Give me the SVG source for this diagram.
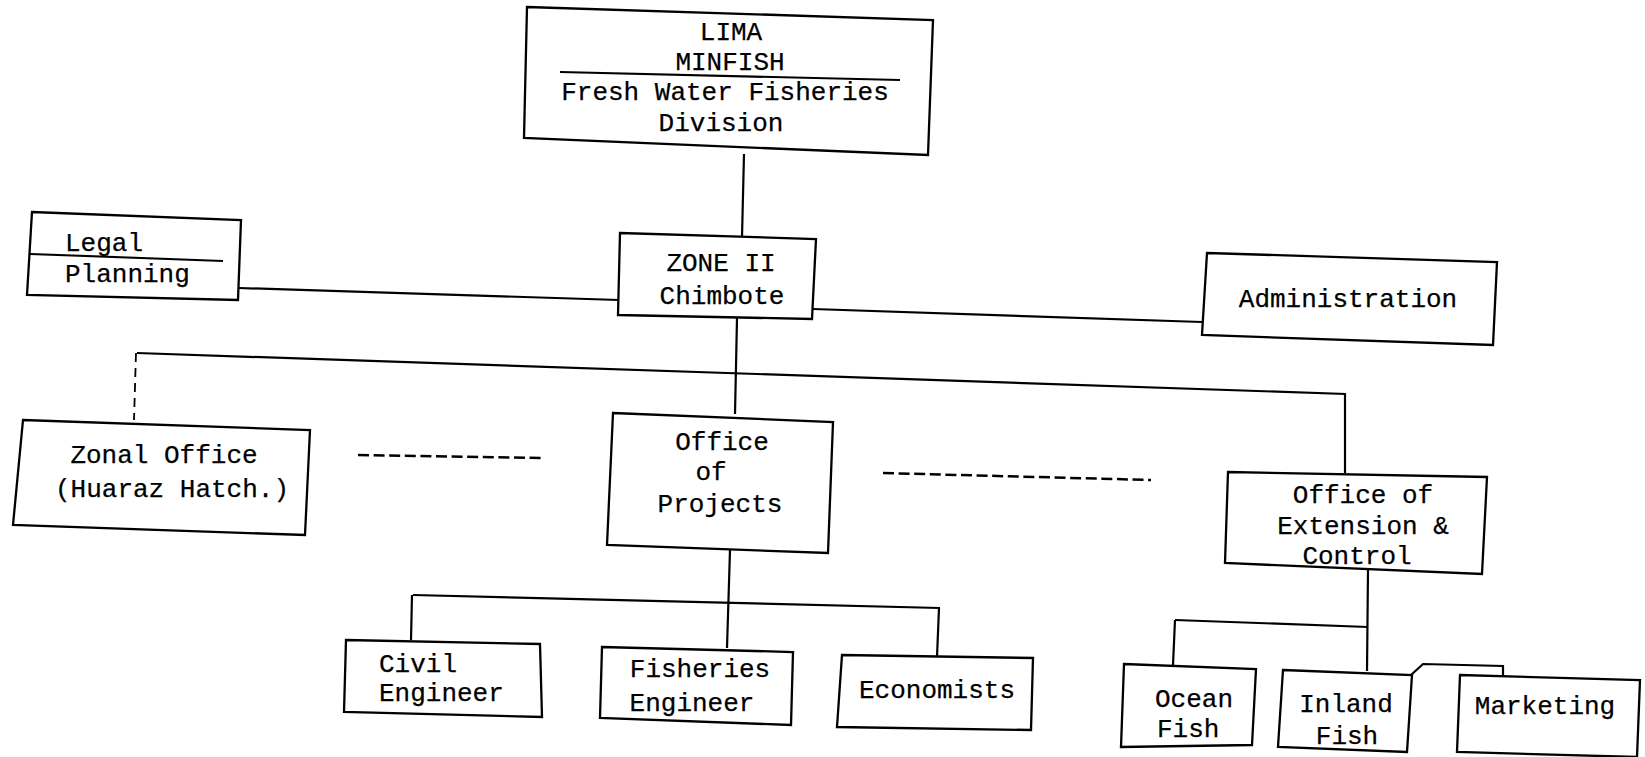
<svg xmlns="http://www.w3.org/2000/svg" width="1645" height="757" viewBox="0 0 1645 757">
<style>
  .box{fill:#fff;stroke:#000;stroke-width:2.3;stroke-linejoin:miter}
  .ln{fill:none;stroke:#000;stroke-width:2.2}
  .dash{fill:none;stroke:#000;stroke-width:2.5;stroke-dasharray:11 4.6}
  .brk{fill:none;stroke:#000;stroke-width:1.8;stroke-dasharray:9 6}
  text{font-family:"Liberation Mono","Courier New",monospace;font-size:26px;fill:#000;stroke:#000;stroke-width:0.25}
  .c{text-anchor:middle}
</style>
<rect width="1645" height="757" fill="#fff"/>
<g id="connectors">
  <line class="ln" x1="744" y1="154" x2="742" y2="237"/>
  <line class="ln" x1="239" y1="288" x2="619" y2="300"/>
  <line class="ln" x1="813" y1="309" x2="1202" y2="322"/>
  <line class="ln" x1="737" y1="318" x2="735" y2="414"/>
  <line class="ln" x1="137" y1="353" x2="1346" y2="394"/>
  <line class="brk" x1="136" y1="353" x2="134" y2="420"/>
  <line class="ln" x1="1345" y1="394" x2="1345" y2="473"/>
  <line class="dash" x1="358" y1="455" x2="545" y2="458"/>
  <line class="dash" x1="883" y1="473" x2="1151" y2="480"/>
  <line class="ln" x1="730" y1="550" x2="727" y2="648"/>
  <line class="ln" x1="413" y1="595" x2="940" y2="608"/>
  <line class="ln" x1="412" y1="595" x2="411" y2="640"/>
  <line class="ln" x1="939" y1="608" x2="937" y2="657"/>
  <line class="ln" x1="1368" y1="570" x2="1367" y2="671"/>
  <line class="ln" x1="1175" y1="620" x2="1368" y2="627"/>
  <line class="ln" x1="1175" y1="620" x2="1173" y2="665"/>
  <polyline class="ln" points="1411,675 1423,664 1503,666 1503,677"/>
</g>
<g id="lima">
  <polygon class="box" points="527,7 933,20 928,155 524,138"/>
  <line class="ln" x1="560" y1="72" x2="900" y2="80"/>
  <text class="c" x="731" y="40">LIMA</text>
  <text class="c" x="730" y="70">MINFISH</text>
  <text class="c" x="725" y="100">Fresh Water Fisheries</text>
  <text class="c" x="721" y="131">Division</text>
</g>
<g id="legal">
  <polygon class="box" points="32,212 241,220 238,300 27,295"/>
  <line class="ln" x1="30" y1="254" x2="223" y2="261"/>
  <text x="65" y="251">Legal</text>
  <text x="65" y="282">Planning</text>
</g>
<g id="zone">
  <polygon class="box" points="620,233 816,239 812,319 618,315"/>
  <text class="c" x="721" y="271">ZONE II</text>
  <text class="c" x="722" y="304">Chimbote</text>
</g>
<g id="admin">
  <polygon class="box" points="1207,253 1497,262 1493,345 1202,335"/>
  <text class="c" x="1348" y="307">Administration</text>
</g>
<g id="zonal">
  <polygon class="box" points="23,420 310,430 305,535 13,525"/>
  <text class="c" x="164" y="463">Zonal Office</text>
  <text class="c" x="172" y="497">(Huaraz Hatch.)</text>
</g>
<g id="projects">
  <polygon class="box" points="613,413 833,422 828,553 607,545"/>
  <text class="c" x="722" y="450">Office</text>
  <text class="c" x="711" y="480">of</text>
  <text class="c" x="720" y="512">Projects</text>
</g>
<g id="extension">
  <polygon class="box" points="1228,472 1487,477 1482,574 1225,563"/>
  <text class="c" x="1363" y="503">Office of</text>
  <text class="c" x="1363" y="534">Extension &amp;</text>
  <text class="c" x="1357" y="564">Control</text>
</g>
<g id="civil">
  <polygon class="box" points="346,640 540,644 542,717 344,712"/>
  <text x="379" y="672">Civil</text>
  <text x="379" y="701">Engineer</text>
</g>
<g id="fisheries">
  <polygon class="box" points="602,647 793,652 791,725 600,718"/>
  <text class="c" x="700" y="677">Fisheries</text>
  <text class="c" x="692" y="711">Engineer</text>
</g>
<g id="economists">
  <polygon class="box" points="842,655 1033,658 1031,730 837,727"/>
  <text class="c" x="937" y="698">Economists</text>
</g>
<g id="ocean">
  <polygon class="box" points="1124,664 1256,669 1252,745 1121,747"/>
  <text x="1155" y="707">Ocean</text>
  <text x="1157" y="737">Fish</text>
</g>
<g id="inland">
  <polygon class="box" points="1283,670 1412,675 1407,752 1278,747"/>
  <text class="c" x="1346" y="712">Inland</text>
  <text class="c" x="1347" y="744">Fish</text>
</g>
<g id="marketing">
  <polygon class="box" points="1460,675 1640,680 1637,757 1457,752"/>
  <text class="c" x="1545" y="714">Marketing</text>
</g>
</svg>
